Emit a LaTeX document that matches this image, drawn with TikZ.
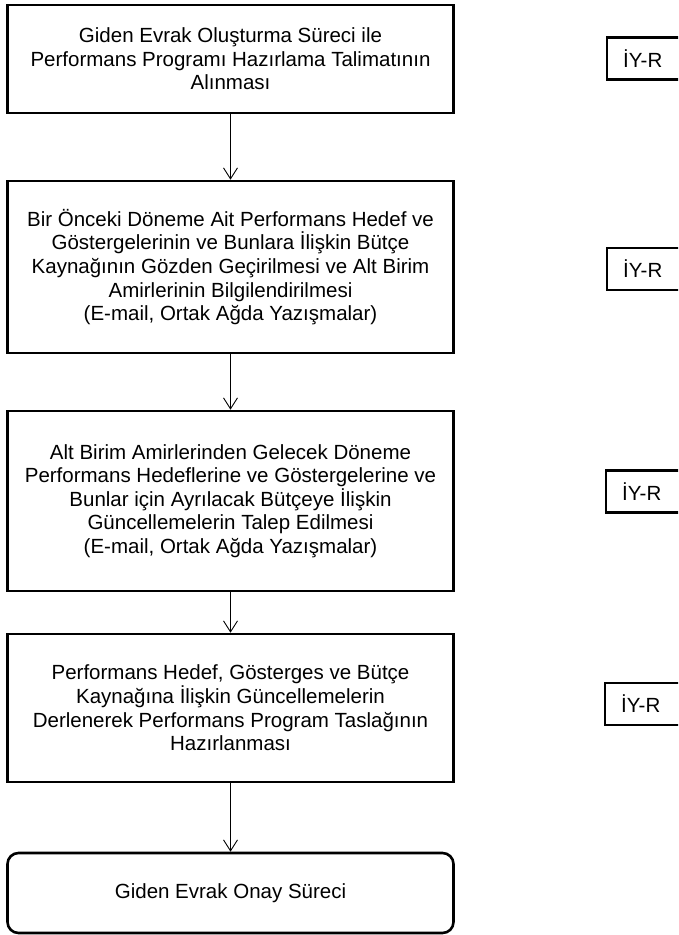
\documentclass[tikz,border=0pt]{standalone}
\usepackage{fontspec}
\setmainfont{Liberation Sans}
\usetikzlibrary{arrows.meta}
\begin{document}
\begin{tikzpicture}[x=1pt,y=-1pt,
  flowbox/.style={draw, line width=2.6pt, minimum width=446pt, align=center, inner sep=0pt,
    font=\fontsize{20.5}{23.6}\selectfont},
  endbox/.style={flowbox, rounded corners=11pt},
  iybox/.style={draw, line width=2.4pt, anchor=west, minimum height=42pt, text width=70pt,
    inner xsep=16pt, align=left, font=\fontsize{20.5}{23.6}\selectfont},
  flow/.style={line width=0.9pt, -{Straight Barb[length=11pt,width=14pt,line width=0.9pt]}}]
\useasboundingbox (0,0) rectangle (678,935);
\clip (0,0) rectangle (678,935);
\fill[white] (0,0) rectangle (678,935);
\node[flowbox, minimum height=108pt] (b1) at (230.5,59) {Giden Evrak Oluşturma Süreci ile\\Performans Programı Hazırlama Talimatının\\Alınması};
\node[flowbox, minimum height=172pt] (b2) at (230.5,267) {Bir Önceki Döneme Ait Performans Hedef ve\\Göstergelerinin ve Bunlara İlişkin Bütçe\\Kaynağının Gözden Geçirilmesi ve Alt Birim\\Amirlerinin Bilgilendirilmesi\\(E-mail, Ortak Ağda Yazışmalar)};
\node[flowbox, minimum height=180pt] (b3) at (230.5,501) {Alt Birim Amirlerinden Gelecek Döneme\\Performans Hedeflerine ve Göstergelerine ve\\Bunlar için Ayrılacak Bütçeye İlişkin\\Güncellemelerin Talep Edilmesi\\(E-mail, Ortak Ağda Yazışmalar)};
\node[flowbox, minimum height=148pt] (b4) at (230.5,708) {Performans Hedef, Gösterges ve Bütçe\\Kaynağına İlişkin Güncellemelerin\\Derlenerek Performans Program Taslağının\\Hazırlanması};
\node[endbox, minimum height=80pt] (b5) at (230.5,893) {Giden Evrak Onay Süreci};
\draw[flow] (b1) -- (b2);
\draw[flow] (b2) -- (b3);
\draw[flow] (b3) -- (b4);
\draw[flow] (b4) -- (b5);
\node[iybox] (r1) at (606,58.5) {İY-R};
\node[iybox] (r2) at (606,269) {İY-R};
\node[iybox] (r3) at (605,491.5) {İY-R};
\node[iybox] (r4) at (604,704) {İY-R};
\end{tikzpicture}
\end{document}
